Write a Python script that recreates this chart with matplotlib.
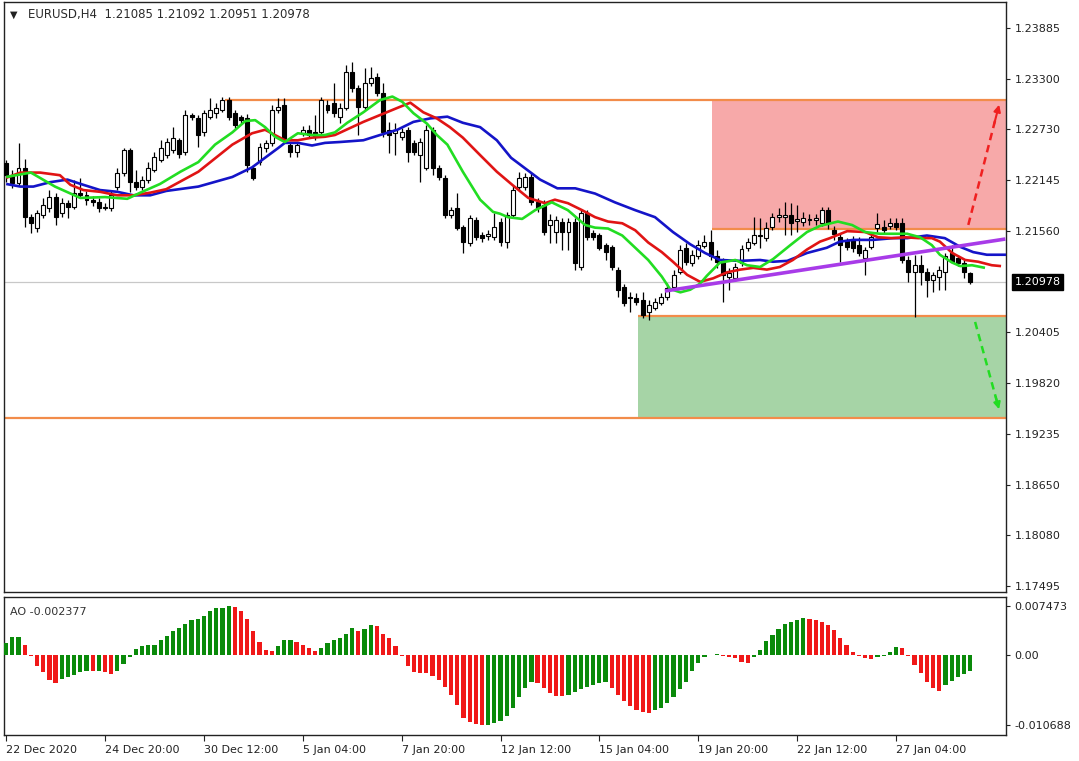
import numpy as np
import matplotlib
matplotlib.use("Agg")
import matplotlib.pyplot as plt
from matplotlib.patches import Rectangle
from matplotlib.transforms import blended_transform_factory

# ---------------- data ----------------
symbol = "EURUSD,H4"

opens = [1.2234, 1.2219, 1.2211, 1.2228, 1.2172, 1.2160, 1.2175, 1.2183, 1.2195, 1.2177,
         1.2188, 1.2184, 1.2200, 1.2197, 1.2192, 1.2189, 1.2183, 1.2183, 1.2207, 1.2223,
         1.2249, 1.2212, 1.2207, 1.2215, 1.2226, 1.2237, 1.2243, 1.2249, 1.2260, 1.2247,
         1.2289, 1.2285, 1.2269, 1.2287, 1.2291, 1.2295, 1.2306, 1.2291, 1.2287, 1.2285,
         1.2228, 1.2235, 1.2251, 1.2257, 1.2295, 1.2300, 1.2255, 1.2247, 1.2268, 1.2272,
         1.2269, 1.2269, 1.2300, 1.2303, 1.2287, 1.2297, 1.2338, 1.2320, 1.2298, 1.2326,
         1.2332, 1.2314, 1.2272, 1.2268, 1.2264, 1.2272, 1.2257, 1.2243, 1.2228, 1.2272,
         1.2228, 1.2217, 1.2175, 1.2183, 1.2161, 1.2143, 1.2169, 1.2152, 1.2151, 1.2149,
         1.2167, 1.2144, 1.2175, 1.2207, 1.2207, 1.2218, 1.2189, 1.2186, 1.2163, 1.2155,
         1.2167, 1.2155, 1.2167, 1.2115, 1.2177, 1.2154, 1.2152, 1.2140, 1.2138, 1.2112,
         1.2092, 1.2081, 1.2080, 1.2077, 1.2064, 1.2068, 1.2074, 1.2081, 1.2092, 1.2109,
         1.2137, 1.2120, 1.2127, 1.2139, 1.2144, 1.2128, 1.2121, 1.2104, 1.2102, 1.2119,
         1.2137, 1.2143, 1.2151, 1.2148, 1.2161, 1.2172, 1.2172, 1.2175, 1.2168, 1.2167,
         1.2169, 1.2169, 1.2165, 1.2180, 1.2157, 1.2149, 1.2146, 1.2146, 1.2140, 1.2125,
         1.2138, 1.2160, 1.2161, 1.2162, 1.2165, 1.2165, 1.2123, 1.2109, 1.2117, 1.2109,
         1.2100, 1.2104, 1.2109, 1.2131, 1.2125, 1.2120, 1.21085]

highs = [1.2237, 1.2226, 1.2257, 1.2239, 1.2176, 1.2180, 1.2194, 1.2203, 1.2200, 1.2194,
         1.2192, 1.2215, 1.2217, 1.2202, 1.2196, 1.2194, 1.2188, 1.2203, 1.2228, 1.2251,
         1.2251, 1.2226, 1.2219, 1.2235, 1.2247, 1.2260, 1.2263, 1.2275, 1.2263, 1.2295,
         1.2291, 1.2289, 1.2295, 1.2308, 1.2303, 1.2310, 1.2310, 1.2295, 1.2289, 1.2290,
         1.2232, 1.2257, 1.2260, 1.2300, 1.2308, 1.2308, 1.2258, 1.2258, 1.2276, 1.2277,
         1.2289, 1.2310, 1.2306, 1.2326, 1.2303, 1.2346, 1.2350, 1.2323, 1.2343, 1.2344,
         1.2337, 1.2326, 1.2281, 1.2280, 1.2274, 1.2275, 1.2260, 1.2263, 1.2277, 1.2275,
         1.2232, 1.2220, 1.2184, 1.2200, 1.2163, 1.2175, 1.2172, 1.2155, 1.2157, 1.2177,
         1.2171, 1.2178, 1.2209, 1.2224, 1.2223, 1.2223, 1.2194, 1.2192, 1.2176, 1.2173,
         1.2171, 1.2171, 1.2171, 1.2180, 1.2180, 1.2157, 1.2154, 1.2143, 1.2140, 1.2115,
         1.2096, 1.2086, 1.2085, 1.2086, 1.2077, 1.2080, 1.2085, 1.2097, 1.2112, 1.2140,
         1.2143, 1.2135, 1.2146, 1.2152, 1.2157, 1.2135, 1.2125, 1.2114, 1.2120, 1.2140,
         1.2148, 1.2172, 1.2171, 1.2167, 1.2177, 1.2183, 1.2189, 1.2188, 1.2186, 1.2178,
         1.2176, 1.2176, 1.2184, 1.2184, 1.2162, 1.2154, 1.2148, 1.2151, 1.2149, 1.2138,
         1.2154, 1.2177, 1.2169, 1.2171, 1.2171, 1.2171, 1.2127, 1.2129, 1.2129, 1.2114,
         1.2109, 1.2116, 1.2131, 1.2140, 1.2129, 1.2123, 1.21092]

lows = [1.2212, 1.2205, 1.2208, 1.2161, 1.2154, 1.2155, 1.2171, 1.2178, 1.2163, 1.2172,
        1.2171, 1.2181, 1.2194, 1.2186, 1.2185, 1.2178, 1.2180, 1.2179, 1.2203, 1.2219,
        1.2201, 1.2203, 1.2203, 1.2211, 1.2224, 1.2235, 1.2240, 1.2245, 1.2240, 1.2243,
        1.2283, 1.2252, 1.2265, 1.2284, 1.2285, 1.2292, 1.2283, 1.2274, 1.2280, 1.2224,
        1.2215, 1.2232, 1.2247, 1.2253, 1.2291, 1.2257, 1.2241, 1.2241, 1.2265, 1.2263,
        1.2260, 1.2266, 1.2291, 1.2287, 1.2280, 1.2295, 1.2315, 1.2266, 1.2295, 1.2322,
        1.2311, 1.2264, 1.2245, 1.2243, 1.2260, 1.2235, 1.2243, 1.2212, 1.2226, 1.2220,
        1.2215, 1.2171, 1.2171, 1.2157, 1.2131, 1.2139, 1.2146, 1.2144, 1.2146, 1.2146,
        1.2139, 1.2137, 1.2172, 1.2203, 1.2203, 1.2186, 1.2178, 1.2152, 1.2143, 1.2143,
        1.2135, 1.2135, 1.2112, 1.2112, 1.2146, 1.2146, 1.2135, 1.2123, 1.2112, 1.2081,
        1.2070, 1.2064, 1.2072, 1.2057, 1.2054, 1.2066, 1.2072, 1.2077, 1.2090, 1.2107,
        1.2117, 1.2116, 1.2124, 1.2137, 1.2123, 1.2114, 1.2075, 1.2089, 1.2099, 1.2116,
        1.2133, 1.2140, 1.2137, 1.2145, 1.2157, 1.2167, 1.2152, 1.2152, 1.2155, 1.2162,
        1.2163, 1.2163, 1.2162, 1.2159, 1.2146, 1.2121, 1.2135, 1.2132, 1.2128, 1.2106,
        1.2136, 1.2155, 1.2154, 1.2159, 1.2157, 1.2120, 1.2098, 1.2058, 1.2094, 1.2081,
        1.2086, 1.2089, 1.2089, 1.2119, 1.2116, 1.2102, 1.20951]

closes = [1.2220, 1.2211, 1.2228, 1.2172, 1.2165, 1.2177, 1.2186, 1.2195, 1.2172, 1.2188,
          1.2184, 1.2200, 1.2197, 1.2192, 1.2189, 1.2183, 1.2184, 1.2197, 1.2223, 1.2249,
          1.2212, 1.2207, 1.2215, 1.2228, 1.2241, 1.2251, 1.2258, 1.2263, 1.2244, 1.2289,
          1.2287, 1.2266, 1.2291, 1.2295, 1.2297, 1.2306, 1.2287, 1.2277, 1.2283, 1.2232,
          1.2217, 1.2252, 1.2257, 1.2295, 1.2298, 1.2260, 1.2247, 1.2255, 1.2272, 1.2266,
          1.2264, 1.2306, 1.2295, 1.2291, 1.2297, 1.2338, 1.2320, 1.2298, 1.2326, 1.2331,
          1.2314, 1.2269, 1.2266, 1.2272, 1.2269, 1.2247, 1.2247, 1.2258, 1.2272, 1.2228,
          1.2218, 1.2175, 1.2180, 1.2160, 1.2144, 1.2171, 1.2149, 1.2148, 1.2153, 1.2161,
          1.2144, 1.2175, 1.2203, 1.2217, 1.2218, 1.2189, 1.2183, 1.2155, 1.2169, 1.2169,
          1.2155, 1.2167, 1.2120, 1.2177, 1.2149, 1.2149, 1.2137, 1.2132, 1.2115, 1.2089,
          1.2074, 1.2080, 1.2075, 1.2060, 1.2072, 1.2075, 1.2081, 1.2091, 1.2106, 1.2135,
          1.2121, 1.2129, 1.2140, 1.2144, 1.2127, 1.2121, 1.2106, 1.2108, 1.2115, 1.2136,
          1.2144, 1.2152, 1.2152, 1.2160, 1.2172, 1.2175, 1.2175, 1.2165, 1.2170, 1.2171,
          1.2170, 1.2171, 1.2180, 1.2165, 1.2153, 1.2140, 1.2138, 1.2137, 1.2131, 1.2135,
          1.2149, 1.2164, 1.2157, 1.2165, 1.2161, 1.2123, 1.2109, 1.2117, 1.2109, 1.2100,
          1.2106, 1.2112, 1.2127, 1.2121, 1.2120, 1.2109, 1.20978]

# Alligator lines (bar position, price)
lips_bars = [0.0, 4.0, 7.9, 12.0, 16.0, 19.6, 21.7, 24.9, 28.2, 31.1, 33.8, 36.6, 38.7, 40.3,
             41.9, 43.5, 45.1, 47.2, 49.5, 51.6, 53.2, 55.2, 57.8, 60.5, 62.5, 64.1, 65.9,
             68.1, 69.7, 71.4, 73.9, 76.7, 78.8, 79.9, 81.2, 83.5, 85.6, 88.3, 90.9, 93.7,
             95.3, 97.4, 99.7, 101.8, 103.9, 106.1, 107.4, 109.1, 110.7, 112.3, 113.4, 115.5,
             118.0, 119.9, 122.0, 124.1, 126.9, 129.6, 131.7, 134.6, 136.9, 139.0, 141.4,
             143.5, 145.8, 147.9, 149.8, 151.1, 153.1, 154.4, 156.3, 158.4]
lips = [1.2218, 1.2223, 1.2207, 1.2194, 1.2195, 1.2193, 1.2200, 1.2210, 1.2224, 1.2235,
        1.2255, 1.2269, 1.2282, 1.2283, 1.2275, 1.2264, 1.2258, 1.2268, 1.2266, 1.2266,
        1.2269, 1.2280, 1.2292, 1.2306, 1.2310, 1.2304, 1.2291, 1.2279, 1.2266, 1.2255,
        1.2224, 1.2192, 1.2178, 1.2176, 1.2172, 1.2170, 1.2180, 1.2189, 1.2180, 1.2163,
        1.2160, 1.2159, 1.2151, 1.2137, 1.2123, 1.2104, 1.2090, 1.2086, 1.2089, 1.2096,
        1.2105, 1.2120, 1.2123, 1.2117, 1.2115, 1.2124, 1.2140, 1.2155, 1.2162, 1.2167,
        1.2163, 1.2155, 1.2153, 1.2153, 1.2153, 1.2149, 1.2140, 1.2129, 1.2120, 1.2116,
        1.2117, 1.2114]

teeth_bars = [0.0, 2.3, 5.5, 8.7, 10.4, 12.5, 15.2, 18.0, 20.6, 23.3, 25.9, 31.1, 36.6, 39.8,
              41.9, 43.5, 45.1, 47.2, 49.5, 51.6, 53.2, 57.8, 63.3, 65.4, 67.5, 69.7, 71.8,
              73.9, 76.7, 79.4, 81.9, 84.5, 87.2, 88.8, 90.9, 93.2, 95.3, 97.4, 99.7, 101.8,
              103.9, 106.1, 107.9, 110.2, 112.3, 114.4, 116.7, 118.8, 120.9, 123.1, 125.2,
              127.3, 129.6, 131.7, 133.3, 136.1, 139.0, 141.1, 143.4, 145.5, 147.6, 149.8,
              151.1, 153.1, 155.2, 157.3, 159.5, 161.0]
teeth = [1.2217, 1.2223, 1.2223, 1.2220, 1.2209, 1.2203, 1.2201, 1.2197, 1.2197, 1.2200,
         1.2204, 1.2224, 1.2255, 1.2268, 1.2272, 1.2266, 1.2260, 1.2260, 1.2263, 1.2264,
         1.2266, 1.2281, 1.2297, 1.2303, 1.2292, 1.2285, 1.2275, 1.2263, 1.2243, 1.2224,
         1.2209, 1.2194, 1.2188, 1.2192, 1.2188, 1.2180, 1.2172, 1.2167, 1.2165, 1.2157,
         1.2143, 1.2132, 1.2121, 1.2106, 1.2098, 1.2102, 1.2109, 1.2112, 1.2114, 1.2112,
         1.2115, 1.2123, 1.2135, 1.2144, 1.2148, 1.2156, 1.2155, 1.2149, 1.2148, 1.2149,
         1.2148, 1.2148, 1.2144, 1.2131, 1.2123, 1.2121, 1.2117, 1.2116]

jaw_bars = [0.0, 2.3, 4.4, 7.1, 9.9, 12.5, 15.2, 18.0, 20.6, 23.3, 25.9, 31.1, 36.6, 39.8,
            41.9, 44.0, 45.1, 47.2, 49.5, 51.6, 54.0, 57.8, 60.5, 63.3, 65.9, 68.6, 71.4,
            73.9, 76.7, 79.4, 81.7, 86.4, 89.2, 92.1, 95.3, 98.5, 101.8, 105.0, 107.9,
            110.7, 113.1, 115.5, 118.8, 122.0, 124.1, 126.4, 129.6, 132.8, 134.9, 137.1,
            140.3, 143.5, 145.8, 149.0, 151.9, 154.4, 156.5, 158.7, 161.8]
jaw = [1.2210, 1.2207, 1.2207, 1.2212, 1.2215, 1.2209, 1.2203, 1.2201, 1.2197, 1.2197,
       1.2202, 1.2207, 1.2218, 1.2229, 1.2240, 1.2251, 1.2257, 1.2257, 1.2254, 1.2257,
       1.2258, 1.2260, 1.2266, 1.2272, 1.2281, 1.2285, 1.2287, 1.2280, 1.2275, 1.2260,
       1.2240, 1.2215, 1.2205, 1.2205, 1.2199, 1.2189, 1.2180, 1.2172, 1.2155, 1.2141,
       1.2131, 1.2123, 1.2122, 1.2123, 1.2121, 1.2122, 1.2131, 1.2137, 1.2144, 1.2146,
       1.2146, 1.2148, 1.2148, 1.2151, 1.2148, 1.2138, 1.2132, 1.2129, 1.2129]

ao = [0.00182, 0.00278, 0.00280, 0.00157, -0.00010, -0.00162, -0.00263, -0.00374, -0.00424, -0.00364,
      -0.00338, -0.00303, -0.00263, -0.00237, -0.00245, -0.00237, -0.00263, -0.00288, -0.00237, -0.00136,
      -0.00035, 0.00091, 0.00141, 0.00152, 0.00160, 0.00227, 0.00293, 0.00369, 0.00419, 0.00480,
      0.00535, 0.00555, 0.00596, 0.00672, 0.00712, 0.00722, 0.007473, 0.00737, 0.00672, 0.00555,
      0.00369, 0.00192, 0.00081, 0.00056, 0.00131, 0.00227, 0.00235, 0.00192, 0.00157, 0.00106,
      0.00056, 0.00106, 0.00182, 0.00227, 0.00258, 0.00318, 0.00419, 0.00369, 0.00394, 0.00460,
      0.00444, 0.00318, 0.00252, 0.00141, -0.00010, -0.00162, -0.00263, -0.00273, -0.00278, -0.00313,
      -0.00374, -0.00490, -0.00616, -0.00768, -0.00959, -0.01020, -0.01050, -0.010688, -0.01060, -0.01040,
      -0.01010, -0.00927, -0.00809, -0.00639, -0.00500, -0.00412, -0.00422, -0.00500, -0.00577, -0.00618,
      -0.00620, -0.00603, -0.00567, -0.00525, -0.00489, -0.00453, -0.00433, -0.00412, -0.00500, -0.00603,
      -0.00706, -0.00783, -0.00845, -0.00876, -0.00886, -0.00845, -0.00809, -0.00731, -0.00639, -0.00525,
      -0.00412, -0.00242, -0.00124, -0.00036, -0.00005, 0.00010, -0.00010, -0.00026, -0.00052, -0.00113,
      -0.00118, -0.00026, 0.00082, 0.00206, 0.00309, 0.00402, 0.00469, 0.00505, 0.00536, 0.00567,
      0.00556, 0.00530, 0.00505, 0.00453, 0.00376, 0.00258, 0.00155, 0.00041, -0.00010, -0.00052,
      -0.00062, -0.00036, -0.00010, 0.00041, 0.00118, 0.00103, -0.00010, -0.00155, -0.00268, -0.00412,
      -0.00500, -0.00551, -0.00460, -0.00400, -0.00340, -0.00290, -0.002377]

time_labels = ["22 Dec 2020", "24 Dec 20:00", "30 Dec 12:00", "5 Jan 04:00", "7 Jan 20:00",
               "12 Jan 12:00", "15 Jan 04:00", "19 Jan 20:00", "22 Jan 12:00", "27 Jan 04:00"]
time_label_bars = [0, 16, 32, 48, 64, 80, 96, 112, 128, 144]

price_ticks = [1.23885, 1.23300, 1.22730, 1.22145, 1.21560, 1.20405,
               1.19820, 1.19235, 1.18650, 1.18080, 1.17495]
ao_ticks = [0.007473, 0.0, -0.010688]
ao_tick_labels = ["0.007473", "0.00", "-0.010688"]

# drawn objects (levels / zones / trend line / arrows)
level_prices = [1.23061, 1.21585, 1.20589, 1.19422]
level_start_bars = [35.4, 114.2, 102.3, -0.35]
sell_zone = (114.2, 1.21585, 1.23061)   # start bar, low price, high price
buy_zone = (102.3, 1.19422, 1.20589)
trend_bars = [106.6, 161.7]
trend_prices = [1.20875, 1.21470]
up_arrow = [(155.7, 1.21631), (160.8, 1.23038)]
down_arrow = [(156.8, 1.20521), (160.8, 1.19491)]

# ---------------- figure ----------------
plt.rcParams['font.family'] = ['DejaVu Sans']
W, H = 1079, 761
fig = plt.figure(figsize=(W / 100, H / 100), dpi=100)
fig.patch.set_facecolor('white')

def ax_rect(x0, y0, x1, y1):
    return [x0 / W, 1 - y1 / H, (x1 - x0) / W, (y1 - y0) / H]

ax = fig.add_axes(ax_rect(4, 2, 1006, 592))
axo = fig.add_axes(ax_rect(4, 597, 1006, 735), sharex=ax)

XMIN, XMAX = -0.35, 161.8
n = len(opens)
x = np.arange(n)
o = np.array(opens); h = np.array(highs); l = np.array(lows); c = np.array(closes)

# zones
for (sb, lo, hi), col in [(sell_zone, '#F7A9A9'), (buy_zone, '#A6D4A6')]:
    ax.add_patch(Rectangle((sb, lo), XMAX - sb, hi - lo, facecolor=col,
                           edgecolor='none', zorder=0))
for lp, sb in zip(level_prices, level_start_bars):
    ax.hlines(lp, sb, XMAX, color='#F28C4A', lw=1.6, zorder=1)

# current price line
ax.axhline(closes[-1], color='#C8C8C8', lw=0.9, zorder=1)

# candles
up = c >= o
ax.vlines(x, l, h, color='black', lw=0.9, zorder=3)
body_lo = np.minimum(o, c)
body_h = np.maximum(np.abs(c - o), 0.00004)
ax.bar(x, body_h, bottom=body_lo, width=0.64,
       color=np.where(up, 'white', 'black'), edgecolor='black', linewidth=0.8, zorder=4)

# alligator
kw = dict(lw=1.9, solid_joinstyle='round', solid_capstyle='butt')
ax.plot(jaw_bars, jaw, color='#1414C8', zorder=5, **kw)
ax.plot(teeth_bars, teeth, color='#E01414', zorder=6, **kw)
ax.plot(lips_bars, lips, color='#22DD22', zorder=7, **kw)

# trend line
ax.plot(trend_bars, trend_prices, color='#A83BE8', lw=2.6, zorder=8, solid_capstyle='butt')

# arrows
for pts, col in [(up_arrow, '#F02020'), (down_arrow, '#22DD22')]:
    (x0, y0), (x1, y1) = pts
    ax.plot([x0, x0 + (x1 - x0) * 0.88], [y0, y0 + (y1 - y0) * 0.88], color=col,
            lw=1.8, ls=(0, (3, 2)), zorder=9)
    ax.annotate('', xy=(x1, y1), xytext=(x0 + (x1 - x0) * 0.8, y0 + (y1 - y0) * 0.8),
                arrowprops=dict(arrowstyle='-|>', color=col, lw=1.5, mutation_scale=10),
                zorder=9)

ax.set_xlim(XMIN, XMAX)
ax.set_ylim(1.17431, 1.24182)
ax.yaxis.tick_right()
ax.set_yticks(price_ticks)
ax.set_yticklabels([f"{p:.5f}" for p in price_ticks])
ax.tick_params(axis='y', length=3, width=0.8, pad=3, labelsize=8, colors='#222222')
ax.tick_params(axis='x', bottom=False, labelbottom=False)
for s in ax.spines.values():
    s.set_linewidth(1.0)
    s.set_color('#222222')

# current price tag
trans = blended_transform_factory(ax.transAxes, ax.transData)
ax.text(1.0085, closes[-1], f"{closes[-1]:.5f}", transform=trans, color='white',
        fontsize=8, va='center', ha='left',
        bbox=dict(boxstyle='square,pad=0.25', facecolor='black', edgecolor='black'))

# header
ax.text(0.006, 0.987, "\u25BC", transform=ax.transAxes, fontsize=7, va='top', ha='left',
        color='#222222')
ax.text(0.024, 0.989,
        f"{symbol}  {opens[-1]:.5f} {highs[-1]:.5f} {lows[-1]:.5f} {closes[-1]:.5f}",
        transform=ax.transAxes, fontsize=8.5, va='top', ha='left', color='#2a2a2a')

# AO panel
aov = np.array(ao)
grow = np.concatenate([[True], aov[1:] > aov[:-1]])
axo.bar(x, aov, width=0.68, color=np.where(grow, '#0A8A0A', '#F01818'), zorder=3)
axo.set_ylim(-0.0122, 0.008845)
axo.yaxis.tick_right()
axo.set_yticks(ao_ticks)
axo.set_yticklabels(ao_tick_labels)
axo.tick_params(axis='y', length=3, width=0.8, pad=3, labelsize=8, colors='#222222')
axo.set_xticks(time_label_bars)
axo.set_xticklabels(time_labels)
axo.tick_params(axis='x', length=4, width=0.8, pad=3, labelsize=8, colors='#222222')
for lab in axo.get_xticklabels():
    lab.set_horizontalalignment('left')
for s in axo.spines.values():
    s.set_linewidth(1.0)
    s.set_color('#222222')
axo.text(0.006, 0.93, f"AO {ao[-1]:.6f}", transform=axo.transAxes, fontsize=8,
         va='top', ha='left', color='#333333')

fig.savefig("out.png", dpi=100, facecolor='white')
